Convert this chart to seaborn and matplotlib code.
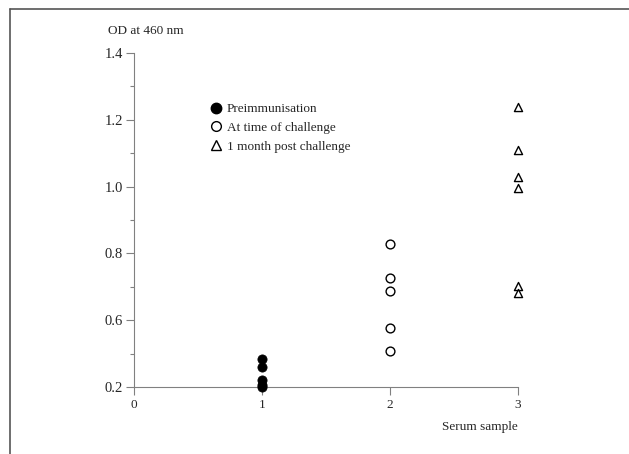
# Dispersão de OD a 460 nm por amostra de soro
import pandas as pd
import seaborn as sns
import matplotlib.pyplot as plt
from matplotlib.lines import Line2D

# Valores (eixo y contínuo; a base do eixo vale 0.4)
preimun = [0.485, 0.46, 0.42, 0.405, 0.40]
desafio = [0.828, 0.726, 0.687, 0.577, 0.508]
pos_desafio = [1.238, 1.11, 1.029, 0.996, 0.702, 0.681]

y_ticks = [0.4, 0.6, 0.8, 1.0, 1.2, 1.4]
y_tick_labels = ['0.2', '0.6', '0.8', '1.0', '1.2', '1.4']
x_ticks = [0, 1, 2, 3]

df = pd.concat([
    pd.DataFrame({'amostra': 1, 'od': preimun, 'grupo': 'Preimmunisation'}),
    pd.DataFrame({'amostra': 2, 'od': desafio, 'grupo': 'At time of challenge'}),
    pd.DataFrame({'amostra': 3, 'od': pos_desafio, 'grupo': '1 month post challenge'}),
])

sns.set_style('white')
plt.rcParams['font.family'] = ['Liberation Serif', 'DejaVu Serif']
cinza = '#808080'

fig = plt.figure(figsize=(6.29, 4.54), dpi=100)
ax = fig.add_axes([134 / 629, 1 - 387 / 454, 384 / 629, 334 / 454])

estilos = {
    'Preimmunisation': dict(marker='o', s=44, color='black', edgecolor='black'),
    'At time of challenge': dict(marker='o', s=40, color='white', edgecolor='black', linewidth=1.0),
    '1 month post challenge': dict(marker='^', s=34, color='white', edgecolor='black', linewidth=1.0),
}
for grupo, kw in estilos.items():
    sub = df[df['grupo'] == grupo]
    sns.scatterplot(data=sub, x='amostra', y='od', ax=ax, clip_on=False,
                    zorder=3, legend=False, **kw)

ax.set_xlim(0, 3)
ax.set_ylim(0.4, 1.4)
ax.set_xticks(x_ticks)
ax.set_xticklabels([str(v) for v in x_ticks])
ax.set_yticks(y_ticks)
ax.set_yticklabels(y_tick_labels)
ax.set_yticks([0.5, 0.7, 0.9, 1.1, 1.3], minor=True)
ax.set_xlabel('')
ax.set_ylabel('')

for lado in ['top', 'right']:
    ax.spines[lado].set_visible(False)
for lado in ['left', 'bottom']:
    ax.spines[lado].set_color(cinza)
    ax.spines[lado].set_linewidth(0.8)

ax.tick_params(axis='y', which='major', direction='out', length=6, width=0.8,
               color=cinza, labelsize=10.5, pad=2, left=True)
ax.tick_params(axis='y', which='minor', direction='out', length=3, width=0.8,
               color=cinza, left=True)
ax.tick_params(axis='x', direction='out', length=6, width=0.8, color=cinza,
               labelsize=9.5, pad=3, bottom=True)

# Legenda
handles = [
    Line2D([], [], marker='o', ls='', color='black', markersize=7.5),
    Line2D([], [], marker='o', ls='', markerfacecolor='white', markeredgecolor='black', markersize=7),
    Line2D([], [], marker='^', ls='', markerfacecolor='white', markeredgecolor='black', markersize=6.5),
]
ax.legend(handles, list(estilos.keys()), loc='upper left', bbox_to_anchor=(0.182, 0.87),
          frameon=False, fontsize=9.5, handlelength=0.8, handletextpad=0.45,
          labelspacing=0.5, borderpad=0)

fig.text(108 / 629, 1 - 31 / 454, 'OD at 460 nm', fontsize=9.5, va='center', ha='left')
fig.text(518 / 629, 1 - 427 / 454, 'Serum sample', fontsize=9.5, va='center', ha='right')

# Moldura da figura (linhas superior e esquerda)
fig.add_artist(Line2D([10 / 629, 1], [1 - 9 / 454, 1 - 9 / 454], color='#555555', lw=1.2))
fig.add_artist(Line2D([10 / 629, 10 / 629], [0, 1 - 9 / 454], color='#555555', lw=1.2))

fig.savefig('out.png', dpi=100)
